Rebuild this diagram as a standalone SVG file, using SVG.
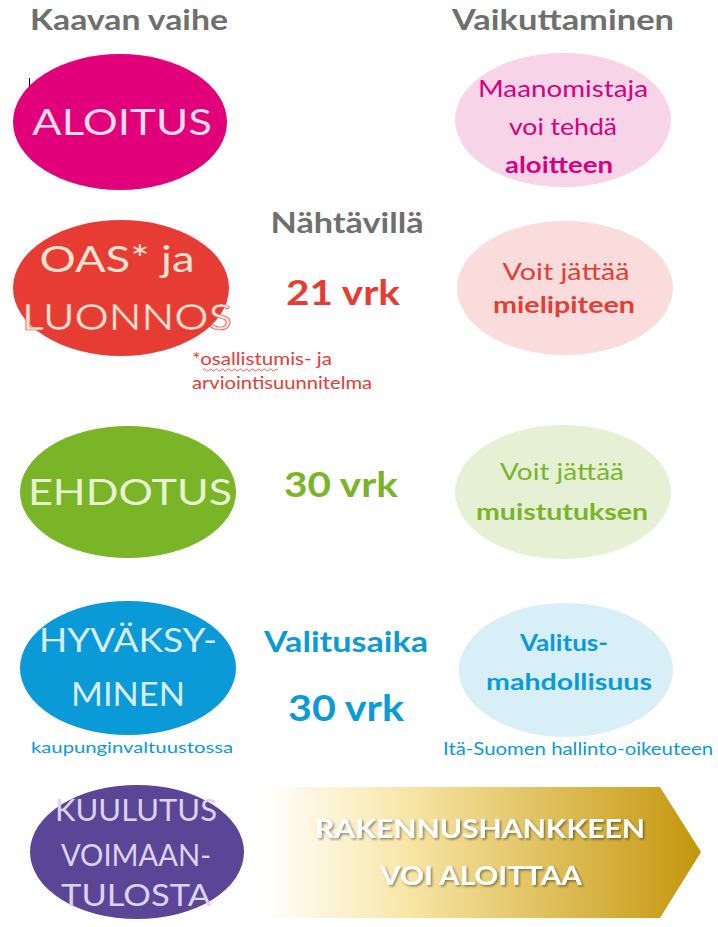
<svg xmlns="http://www.w3.org/2000/svg" width="718" height="927" viewBox="0 0 718 927">
<defs>
<style>
text{font-family:Lato,"Open Sans","Liberation Sans",sans-serif;text-anchor:middle}
.h{font-size:28px;font-weight:bold;fill:#6f6f6f}
.big{font-size:37px}
.mid{font-size:23px}
.b{font-weight:bold}
.note{font-size:17px;text-anchor:start}
</style>
<linearGradient id="gold" x1="0" y1="0" x2="1" y2="0">
<stop offset="0.03" stop-color="#ffffff"/>
<stop offset="0.35" stop-color="#f8e6a6"/>
<stop offset="1" stop-color="#c4960c"/>
</linearGradient>
<filter id="sh" x="-10%" y="-30%" width="120%" height="160%">
<feDropShadow dx="1.5" dy="1.5" stdDeviation="1" flood-color="#000" flood-opacity="0.45"/>
</filter>
</defs>
<rect width="718" height="927" fill="#fff"/>

<g id="headers">
<text class="h" x="129" y="30" textLength="198" lengthAdjust="spacingAndGlyphs">Kaavan vaihe</text>
<text class="h" x="563" y="30" textLength="222" lengthAdjust="spacingAndGlyphs">Vaikuttaminen</text>
<line x1="29.5" y1="78" x2="29.5" y2="94" stroke="#000" stroke-width="1"/>
</g>

<g id="aloitus">
<ellipse cx="120" cy="122" rx="107" ry="68" fill="#e2007a"/>
<text class="big" x="122" y="135" fill="#fbdde8" textLength="180" lengthAdjust="spacingAndGlyphs">ALOITUS</text>
</g>
<g id="aloite">
<ellipse cx="563" cy="120" rx="108" ry="67" fill="#f8d4e8"/>
<text class="mid" x="563" y="97" fill="#d6007c" textLength="170" lengthAdjust="spacingAndGlyphs">Maanomistaja</text>
<text class="mid" x="563" y="135" fill="#d6007c" textLength="108" lengthAdjust="spacingAndGlyphs">voi tehdä</text>
<text class="mid b" x="559" y="173" fill="#d6007c" textLength="108" lengthAdjust="spacingAndGlyphs">aloitteen</text>
</g>

<g id="oas">
<ellipse cx="121" cy="288" rx="108" ry="68" fill="#e63c33"/>
<text class="big" x="117" y="272" fill="#fde3d3" textLength="155" lengthAdjust="spacingAndGlyphs">OAS* ja</text>
<text class="big" x="127" y="330" fill="#fde3d3" stroke="#e63c33" stroke-width="0.6" textLength="210" lengthAdjust="spacingAndGlyphs">LUONNOS</text>
<text class="note" x="192" y="365" fill="#e63c33" textLength="140" lengthAdjust="spacingAndGlyphs">*osallistumis- ja</text>
<path d="M203 370 q1.5 -2 3 0 t3 0 t3 0 t3 0 t3 0 t3 0 t3 0 t3 0 t3 0 t3 0 t3 0 t3 0 t3 0 t3 0 t3 0 t3 0 t3 0 t3 0 t3 0 t3 0 t3 0 t3 0 t3 0 t3 0 t3 0" fill="none" stroke="#e63c33" stroke-width="0.8"/>
<text class="note" x="192" y="389" fill="#e63c33" textLength="180" lengthAdjust="spacingAndGlyphs">arviointisuunnitelma</text>
</g>
<g id="nahtavilla">
<text class="h" x="347" y="233" textLength="153" lengthAdjust="spacingAndGlyphs">Nähtävillä</text>
<text class="b" x="343" y="305" font-size="35" fill="#e63c33" textLength="114" lengthAdjust="spacingAndGlyphs">21 vrk</text>
</g>
<g id="mielipide">
<ellipse cx="565" cy="288" rx="108" ry="67" fill="#fadcdc"/>
<text class="mid" x="566" y="280" fill="#e63c33" textLength="127" lengthAdjust="spacingAndGlyphs">Voit jättää</text>
<text class="mid b" x="564" y="313" fill="#e63c33" textLength="142" lengthAdjust="spacingAndGlyphs">mielipiteen</text>
</g>

<g id="ehdotus">
<ellipse cx="128" cy="492" rx="108" ry="66" fill="#7ab528"/>
<text class="big" x="130" y="505" fill="#e8f3d2" textLength="204" lengthAdjust="spacingAndGlyphs">EHDOTUS</text>
</g>
<g id="ehdotus-aika">
<text class="b" x="341" y="497" font-size="35" fill="#7ab528" textLength="114" lengthAdjust="spacingAndGlyphs">30 vrk</text>
</g>
<g id="muistutus">
<ellipse cx="563" cy="492" rx="108" ry="67" fill="#e6f0d5"/>
<text class="mid" x="562" y="480" fill="#7ab528" textLength="124" lengthAdjust="spacingAndGlyphs">Voit jättää</text>
<text class="mid b" x="562" y="520" fill="#7ab528" textLength="172" lengthAdjust="spacingAndGlyphs">muistutuksen</text>
</g>

<g id="hyvaksyminen">
<ellipse cx="128" cy="668" rx="108" ry="67" fill="#0a9ad8"/>
<text x="128" y="652" font-size="32" fill="#d8edf8" textLength="178" lengthAdjust="spacingAndGlyphs">HYVÄKSY-</text>
<text x="128" y="706" font-size="32" fill="#d8edf8" textLength="114" lengthAdjust="spacingAndGlyphs">MINEN</text>
<text x="132" y="753" font-size="16" fill="#0a9ad8" textLength="202" lengthAdjust="spacingAndGlyphs">kaupunginvaltuustossa</text>
</g>
<g id="valitusaika">
<text class="b" x="346" y="652" font-size="28" fill="#0a9ad8" textLength="164" lengthAdjust="spacingAndGlyphs">Valitusaika</text>
<text class="b" x="346" y="721" font-size="37" fill="#0a9ad8" textLength="116" lengthAdjust="spacingAndGlyphs">30 vrk</text>
</g>
<g id="valitus">
<ellipse cx="566" cy="670" rx="107" ry="67" fill="#d9eff8"/>
<text class="mid b" x="564" y="651" fill="#0a9ad8" textLength="88" lengthAdjust="spacingAndGlyphs">Valitus-</text>
<text class="mid b" x="569" y="690" fill="#0a9ad8" textLength="166" lengthAdjust="spacingAndGlyphs">mahdollisuus</text>
<text x="578" y="755" font-size="17" fill="#0a9ad8" textLength="270" lengthAdjust="spacingAndGlyphs">Itä-Suomen hallinto-oikeuteen</text>
</g>

<g id="kuulutus">
<ellipse cx="137" cy="852" rx="107" ry="67" fill="#5b4597"/>
<text x="136" y="821" font-size="30" fill="#dcd3ee" textLength="162" lengthAdjust="spacingAndGlyphs">KUULUTUS</text>
<text x="136" y="866" font-size="30" fill="#dcd3ee" textLength="150" lengthAdjust="spacingAndGlyphs">VOIMAAN-</text>
<text x="136" y="906" font-size="30" fill="#dcd3ee" textLength="150" lengthAdjust="spacingAndGlyphs">TULOSTA</text>
</g>

<g id="rakennus">
<polygon points="250,787 660,787 701,852 660,918 250,918" fill="url(#gold)"/>
<g filter="url(#sh)" fill="#fff" font-weight="bold" font-size="27">
<text x="480" y="838" textLength="330" lengthAdjust="spacingAndGlyphs">RAKENNUSHANKKEEN</text>
<text x="481" y="885" textLength="202" lengthAdjust="spacingAndGlyphs">VOI ALOITTAA</text>
</g>
</g>

<g id="connectors"></g>
</svg>
